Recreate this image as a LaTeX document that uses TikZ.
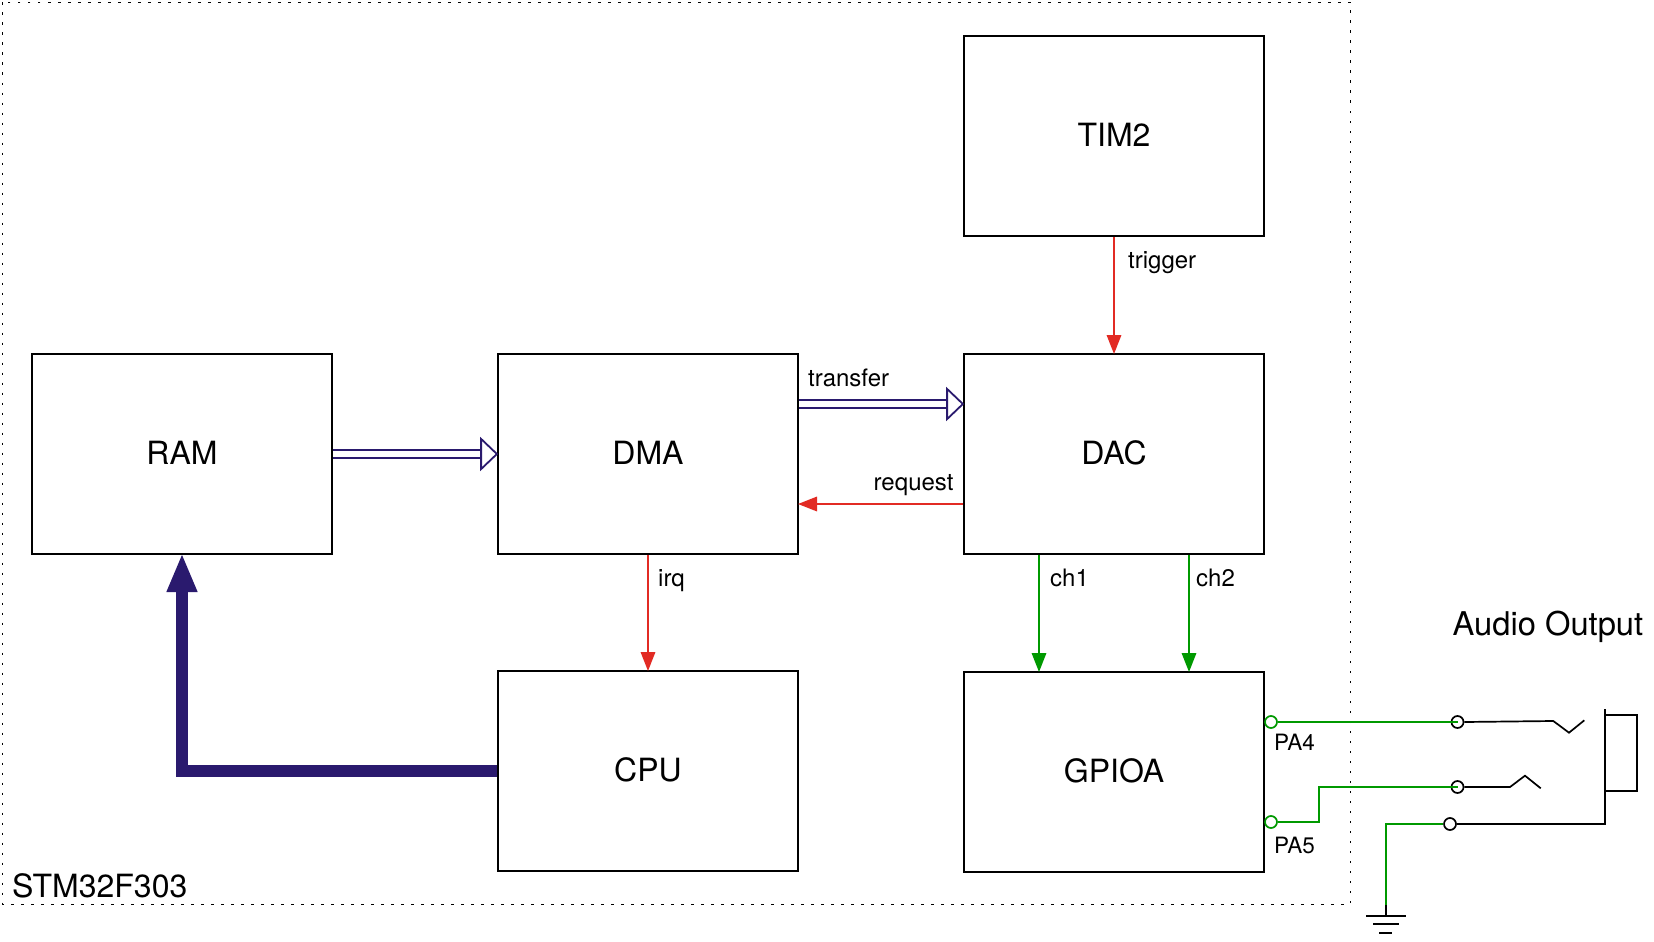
\documentclass[tikz,border=0pt]{standalone}
\usepackage{fontspec}
\setmainfont{TeX Gyre Heros}
\usetikzlibrary{arrows.meta,calc}
\definecolor{navy}{HTML}{2A1A6E}
\definecolor{redw}{HTML}{E22B24}
\definecolor{greenw}{HTML}{009900}
\tikzset{
  blockbox/.style={draw=black,line width=2pt,minimum width=300pt,minimum height=200pt,inner sep=0pt,text depth=2pt,font=\fontsize{32}{36}\selectfont},
  lbl/.style={anchor=base west,inner sep=0pt,font=\fontsize{24}{28}\selectfont},
  pinlbl/.style={anchor=base west,inner sep=0pt,font=\fontsize{22.5}{26}\selectfont},
  biglbl/.style={anchor=base west,inner sep=0pt,font=\fontsize{32}{36}\selectfont},
  frameline/.style={draw=black,line width=1pt,dash pattern=on 2.5pt off 7.5pt},
  redarrow/.style={draw=redw,line width=1.7pt,-{Triangle[length=19pt,width=14.5pt]},shorten >=-1pt},
  greenarrow/.style={draw=greenw,line width=1.7pt,-{Triangle[length=19pt,width=14.5pt]},shorten >=-1pt},
  hollowarrow/.style={draw=navy,line width=2pt,double=white,double distance=6.8pt,shorten >=-1.2pt,-{Triangle[open,length=18pt,width=34pt,line width=1.8pt,fill=white]}},
  thickarrow/.style={draw=navy,line width=12pt,-{Triangle[length=39pt,width=28pt]},shorten >=-2pt},
  greenwire/.style={draw=greenw,line width=1.7pt},
  blackwire/.style={draw=black,line width=1.7pt},
  pincircle/.style={circle,draw=greenw,line width=1.7pt,fill=white,minimum size=12pt,inner sep=0pt},
  jackcircle/.style={circle,draw=black,line width=1.7pt,fill=white,minimum size=12pt,inner sep=0pt},
}
\begin{document}
\begin{tikzpicture}[x=1pt,y=-1pt]
\useasboundingbox (0,0) rectangle (1654,942);
\fill[white] (0,0) rectangle (1654,942);
\draw[frameline] (2.5,2.5) rectangle (1350,904);

\node[blockbox] (tim) at (1114,136) {TIM2};
\node[blockbox] (ram) at (182,454) {RAM};
\node[blockbox] (dma) at (648,454) {DMA};
\node[blockbox] (dac) at (1114,454) {DAC};
\node[blockbox] (cpu) at (648,771) {CPU};
\node[blockbox] (gpio) at (1114,772) {GPIOA};

\draw[hollowarrow] (ram.east) -- (dma.west);
\draw[hollowarrow] ($(dma.east)+(0,-50)$) -- ($(dac.west)+(0,-50)$);
\draw[redarrow] (tim.south) -- (dac.north);
\draw[redarrow] ($(dac.west)+(0,50)$) -- ($(dma.east)+(0,50)$);
\draw[redarrow] (dma.south) -- (cpu.north);
\draw[greenarrow] ($(dac.south)+(-75,0)$) -- ($(gpio.north)+(-75,0)$);
\draw[greenarrow] ($(dac.south)+(75,0)$) -- ($(gpio.north)+(75,0)$);
\draw[thickarrow] (cpu.west) -| (ram.south);

\node[lbl] (ltrig) at (1128,268.5) {trigger};
\node[lbl] (ltran) at (808,386.5) {transfer};
\node[lbl] (lreq) at (873.5,490) {request};
\node[lbl] (lirq) at (658,586.5) {irq};
\node[lbl] (lch1) at (1050,586.5) {ch1};
\node[lbl] (lch2) at (1196,586.5) {ch2};
\node[pinlbl] (lpa4) at (1274,750.5) {PA4};
\node[pinlbl] (lpa5) at (1274,853.5) {PA5};
\node[biglbl] (lstm) at (12,897.5) {STM32F303};
\node[biglbl,font=\fontsize{32.7}{36}\selectfont] (laud) at (1452.5,635) {Audio Output};

\node[pincircle] (pa4) at (1271,722) {};
\node[pincircle] (pa5) at (1271,822) {};
\node[jackcircle] (j1) at (1457.5,722) {};
\node[jackcircle] (j2) at (1457.5,787) {};
\node[jackcircle] (j3) at (1450,824) {};

\coordinate (g0) at (1319,787);
\coordinate (gnd) at (1385.7,905);
\coordinate (gndtop) at (1385.7,916);
\draw[greenwire] (pa4.east) -- (j1.center);
\draw[greenwire,line join=miter] (pa5.east) -- (g0 |- pa5) -- (g0) -- (j2.center);
\draw[greenwire] (j3.west) -| (gnd);
\draw[blackwire] (gnd) -- (gndtop);
\draw[blackwire] (1366,916) -- (gndtop) -- (1406,916);
\draw[blackwire] (1373,924) -- (1399,924);
\draw[blackwire] (1379,933) -- (1392,933);

\draw[blackwire] (j1.east) -- (1553.3,721) -- (1569,732.7) -- (1584.3,720.3);
\draw[blackwire] (j2.east) -- (1510,787) -- (1525,775.7) -- (1540.7,788.3);
\draw[blackwire] (j3.east) -- (1605,824) -- (1605,709);
\draw[blackwire] (1605,715) -- (1637,715) -- (1637,790.7) -- (1605,790.7);
\end{tikzpicture}
\end{document}
